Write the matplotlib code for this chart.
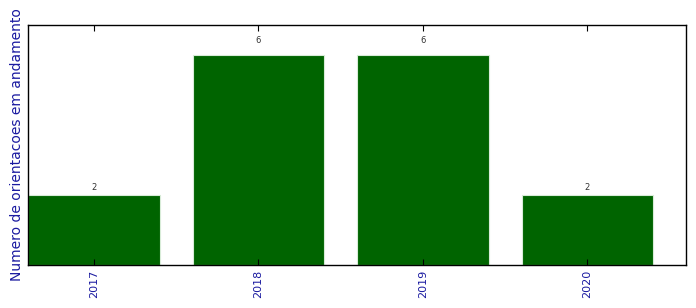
import numpy as np
import matplotlib
matplotlib.use("Agg")
import matplotlib.pyplot as plt

anos = ["2017", "2018", "2019", "2020"]
orientacoes = [2, 6, 6, 2]

fig = plt.figure(figsize=(6.96, 3.08), dpi=100)
ax = fig.add_axes([28 / 696, 1 - 265 / 308, 658 / 696, 240 / 308])

x = np.arange(len(anos))
bars = ax.bar(x, orientacoes, width=0.8, color="#006400", edgecolor="#d8ecd8", linewidth=0.8)
for b, v in zip(bars, orientacoes):
    ax.text(b.get_x() + b.get_width() / 2, v * 1.05, str(v), ha="center", va="bottom",
            fontsize=6, color="#333333")

ax.set_xlim(-0.4, 3.6)
ax.set_ylim(0, 6.86)
ax.set_xticks(x)
ax.set_xticklabels(anos, rotation=90, color="#1a1aa0", fontsize=8)
ax.set_yticks([])
ax.tick_params(axis="x", direction="in", top=True, length=4, width=0.8)
for s in ax.spines.values():
    s.set_linewidth(1.0)
ax.set_ylabel("Numero de orientacoes em andamento", color="#1a1aa0", fontsize=10, labelpad=3)

fig.savefig("out.png", dpi=100)
